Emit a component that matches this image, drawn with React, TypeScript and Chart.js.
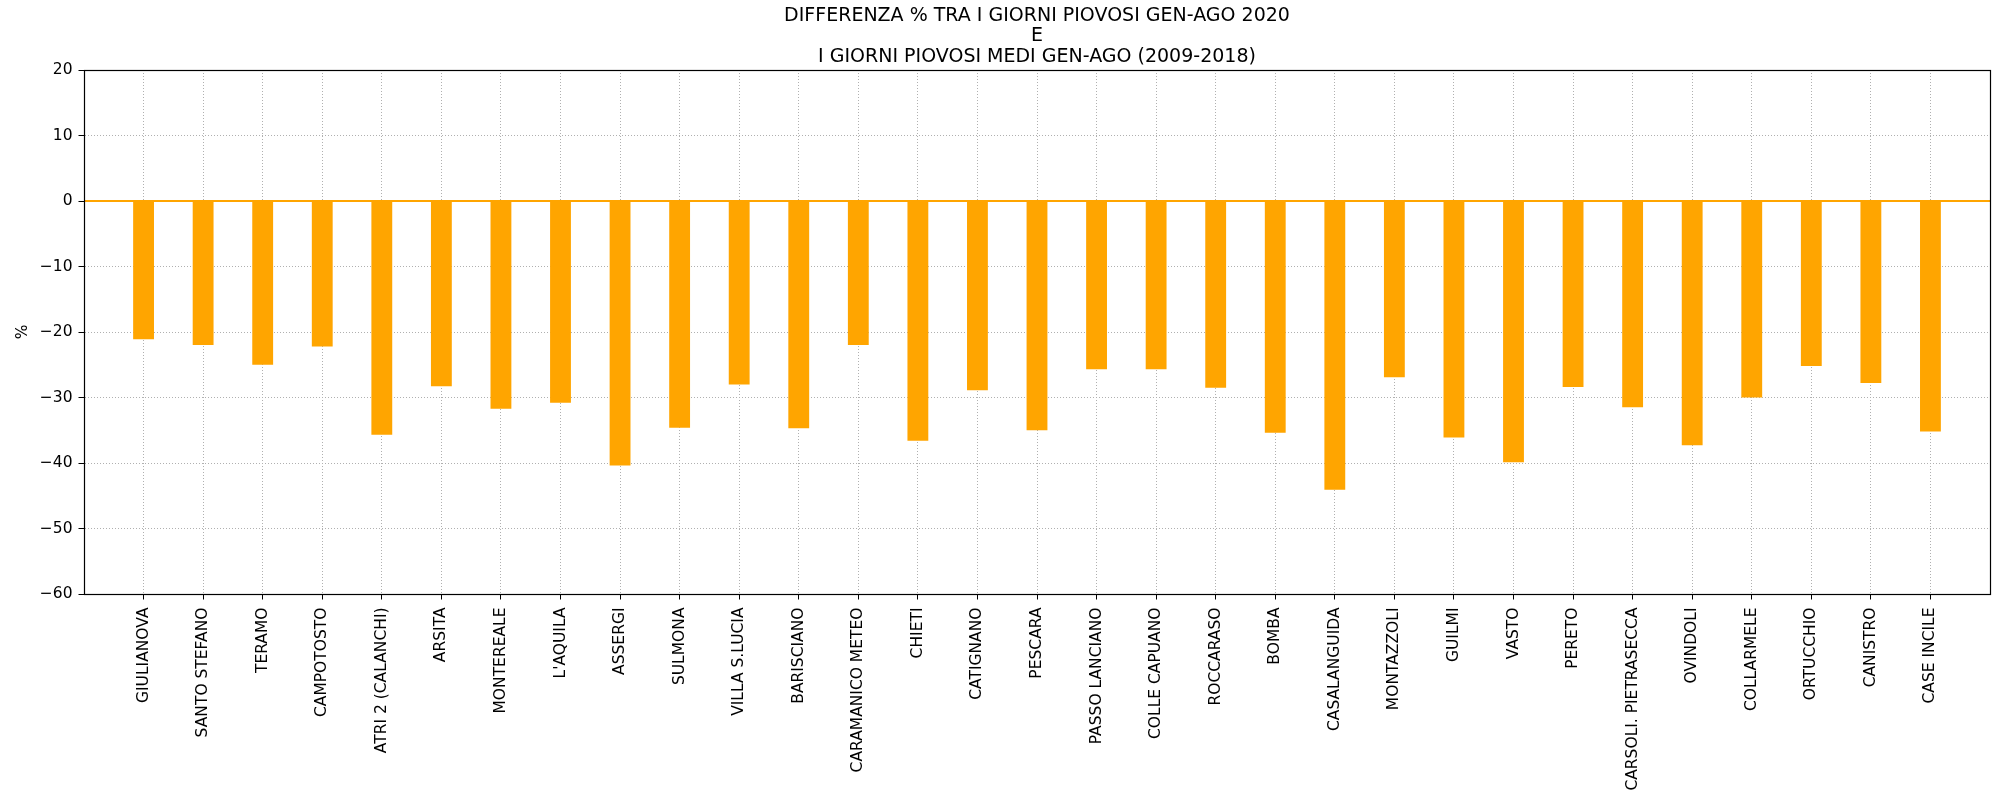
import React, { useEffect, useRef } from 'react';
import { Chart, registerables } from 'chart.js';

Chart.register(...registerables);

const stations = [
  'GIULIANOVA', 'SANTO STEFANO', 'TERAMO', 'CAMPOTOSTO', 'ATRI 2 (CALANCHI)', 'ARSITA',
  'MONTEREALE', "L'AQUILA", 'ASSERGI', 'SULMONA', 'VILLA S.LUCIA', 'BARISCIANO',
  'CARAMANICO METEO', 'CHIETI', 'CATIGNANO', 'PESCARA', 'PASSO LANCIANO', 'COLLE CAPUANO',
  'ROCCARASO', 'BOMBA', 'CASALANGUIDA', 'MONTAZZOLI', 'GUILMI', 'VASTO', 'PERETO',
  'CARSOLI. PIETRASECCA', 'OVINDOLI', 'COLLARMELE', 'ORTUCCHIO', 'CANISTRO', 'CASE INCILE',
];

const diffPct = [
  -21.1, -22.0, -25.0, -22.2, -35.7, -28.3,
  -31.7, -30.8, -40.4, -34.6, -28.0, -34.7,
  -22.0, -36.6, -28.9, -35.0, -25.7, -25.7,
  -28.5, -35.4, -44.1, -26.9, -36.1, -39.9, -28.4,
  -31.5, -37.3, -30.0, -25.2, -27.8, -35.2,
];

const yMin = -60;
const yMax = 20;
const yStep = 10;

const titleLines = [
  'DIFFERENZA % TRA I GIORNI PIOVOSI GEN-AGO 2020',
  'E',
  'I GIORNI PIOVOSI MEDI GEN-AGO (2009-2018)',
];
const yAxisLabel = '%';

const BAR_COLOR = '#FFA500';
const FONT = "'DejaVu Sans', sans-serif";
const TICK_SIZE = 15.5;
const TITLE_SIZE = 19;

export default function App() {
  const ref = useRef<HTMLCanvasElement>(null);

  useEffect(() => {
    const canvas = ref.current;
    if (!canvas) return;

    const decor = {
      id: 'decor',
      afterDatasetsDraw(chart: any) {
        const { ctx, chartArea: a, scales } = chart;
        const y0 = scales.y.getPixelForValue(0);
        ctx.save();
        ctx.strokeStyle = BAR_COLOR;
        ctx.lineWidth = 2;
        ctx.beginPath();
        ctx.moveTo(a.left, y0);
        ctx.lineTo(a.right, y0);
        ctx.stroke();
        ctx.restore();
      },
      afterDraw(chart: any) {
        const { ctx, chartArea: a } = chart;
        ctx.save();
        ctx.strokeStyle = '#000';
        ctx.lineWidth = 1.2;
        ctx.strokeRect(Math.round(a.left) + 0.5, Math.round(a.top) + 0.5, Math.round(a.right - a.left), Math.round(a.bottom - a.top));
        ctx.fillStyle = '#000';
        ctx.font = `${TITLE_SIZE}px ${FONT}`;
        ctx.textAlign = 'center';
        ctx.textBaseline = 'alphabetic';
        const cx = (a.left + a.right) / 2;
        const n = titleLines.length;
        titleLines.forEach((line, i) => {
          ctx.fillText(line, cx, a.top - 8.3 - (n - 1 - i) * 20.5);
        });
        ctx.restore();
      },
    };

    const chart = new Chart(canvas, {
      type: 'bar',
      data: {
        datasets: [
          {
            data: diffPct.map((v, i) => ({ x: i, y: v })),
            backgroundColor: BAR_COLOR,
            borderWidth: 0,
            barPercentage: 0.35,
            categoryPercentage: 1,
          },
        ],
      },
      options: {
        responsive: false,
        animation: false,
        layout: { padding: { top: 70, right: 3, left: 0, bottom: 0 } },
        plugins: { legend: { display: false }, tooltip: { enabled: false }, title: { display: false } },
        scales: {
          x: {
            type: 'linear',
            min: -1,
            max: stations.length,
            offset: false,
            afterBuildTicks: (scale: any) => {
              scale.ticks = stations.map((_, i) => ({ value: i }));
            },
            afterFit: (scale: any) => {
              scale.height = 205;
            },
            ticks: {
              autoSkip: false,
              minRotation: 90,
              maxRotation: 90,
              padding: 8,
              color: '#000',
              font: { family: FONT, size: TICK_SIZE },
              callback: (v: any) => stations[v as number] ?? '',
            },
            grid: {
              color: '#b0b0b0',
              lineWidth: 1,
              offset: false,
              drawTicks: true,
              tickLength: 5.5,
              tickColor: '#000',
              tickWidth: 1,
              tickBorderDash: [],
            },
            border: { display: true, color: '#000', width: 1, dash: [1, 2] },
          },
          y: {
            type: 'linear',
            min: yMin,
            max: yMax,
            afterFit: (scale: any) => {
              scale.width = 84;
            },
            ticks: {
              stepSize: yStep,
              padding: 6,
              color: '#000',
              font: { family: FONT, size: TICK_SIZE },
              callback: (v: any) => String(v).replace('-', '\u2212'),
            },
            grid: {
              color: '#b0b0b0',
              lineWidth: 1,
              drawTicks: true,
              tickLength: 5.5,
              tickColor: '#000',
              tickWidth: 1,
              tickBorderDash: [],
            },
            border: { display: true, color: '#000', width: 1, dash: [1, 2] },
            title: {
              display: true,
              text: yAxisLabel,
              color: '#000',
              font: { family: FONT, size: TICK_SIZE },
              padding: { top: 13.2, bottom: 0 },
            },
          },
        },
      },
      plugins: [decor],
    });

    return () => chart.destroy();
  }, []);

  return (
    <div style={{ position: 'fixed', left: 0, top: 0, width: 1993, height: 799, background: '#fff' }}>
      <canvas ref={ref} width={1993} height={799} />
    </div>
  );
}
